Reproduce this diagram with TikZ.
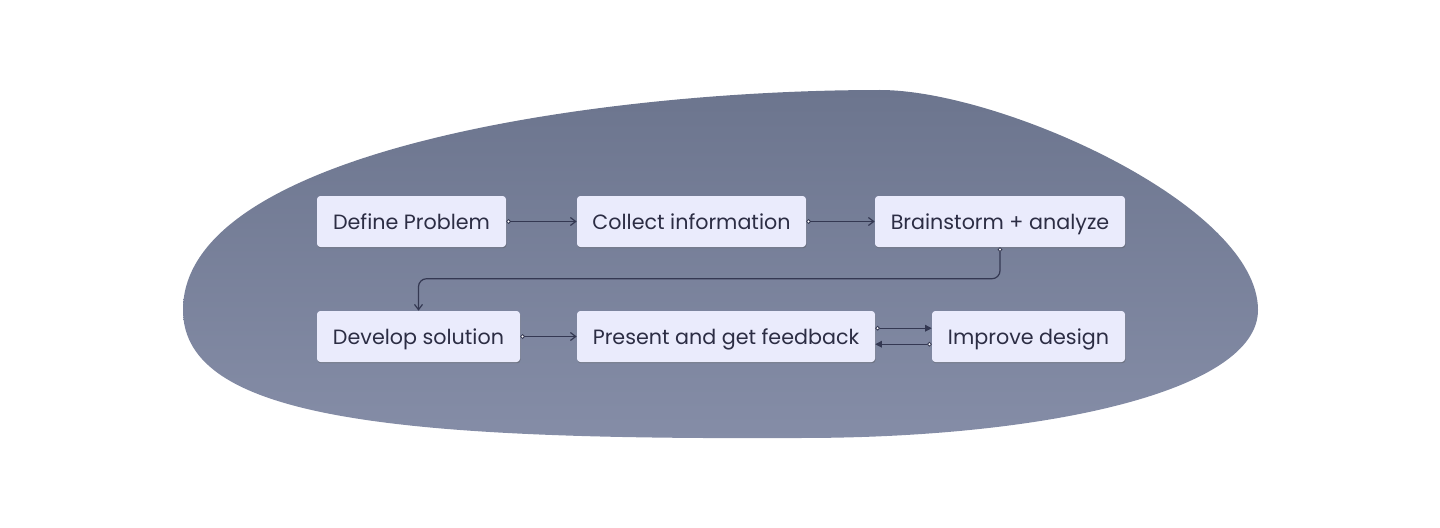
\documentclass[tikz,border=0pt]{standalone}
\usepackage{fontspec}
\setmainfont{Poppins}
\usetikzlibrary{arrows.meta,shadows}
\definecolor{blobtop}{RGB}{108,117,142}
\definecolor{blobbot}{RGB}{133,141,167}
\definecolor{boxfill}{RGB}{234,235,252}
\definecolor{txt}{RGB}{44,45,68}
\definecolor{wire}{RGB}{52,56,82}
\tikzset{
  stepbox/.style={fill=boxfill, rounded corners=2.5pt, inner sep=0pt, text=txt,
    font=\fontsize{15.5pt}{18pt}\selectfont, minimum height=38.25pt,
    text height=11.6pt, text depth=0pt,
    drop shadow={shadow xshift=0.4pt, shadow yshift=-0.9pt, opacity=0.35, fill=black!70}},
  link/.style={draw=wire, line width=0.9pt,
    {Circle[open,fill=white,length=3.5pt,line width=0.6pt]}-{Straight Barb[length=4pt,width=6pt]}},
  linkfill/.style={draw=wire, line width=0.9pt,
    {Circle[open,fill=white,length=3.5pt,line width=0.6pt]}-{Triangle[length=5pt,width=5pt]}},
}
\begin{document}
\begin{tikzpicture}[x=0.75pt,y=-0.75pt]
\useasboundingbox (0,0) rectangle (1440,528);
\shade[top color=blobtop, bottom color=blobbot]
  (183,310) .. controls (183,150) and (600,90) .. (880,90)
  .. controls (1000,90) and (1258,205) .. (1258,310)
  .. controls (1258,390) and (1050,438) .. (800,438)
  .. controls (400,440) and (183,420) .. (183,310) -- cycle;
\node[stepbox, minimum width=141.75pt] (dp) at (411.5,221.5) {Define Problem};
\node[stepbox, minimum width=171.75pt] (ci) at (691.5,221.5) {Collect information};
\node[stepbox, minimum width=187.5pt] (ba) at (1000,221.5) {Brainstorm + analyze};
\node[stepbox, minimum width=152.25pt] (ds) at (418.5,336.5) {Develop solution};
\node[stepbox, minimum width=223.5pt] (pf) at (726,336.5) {Present and get feedback};
\node[stepbox, minimum width=144.75pt] (id) at (1028.5,336.5) {Improve design};
\draw[link] (dp.east) -- (ci.west);
\draw[link] (ci.east) -- (ba.west);
\draw[link, rounded corners=6pt] (ba.south) |- ([yshift=24pt]ds.north) -- (ds.north);
\draw[link] (ds.east) -- (pf.west);
\draw[linkfill] ([yshift=6.2pt]pf.east) -- ([yshift=6.2pt]id.west);
\draw[linkfill] ([yshift=-5.8pt]id.west) -- ([yshift=-5.8pt]pf.east);
\end{tikzpicture}
\end{document}
